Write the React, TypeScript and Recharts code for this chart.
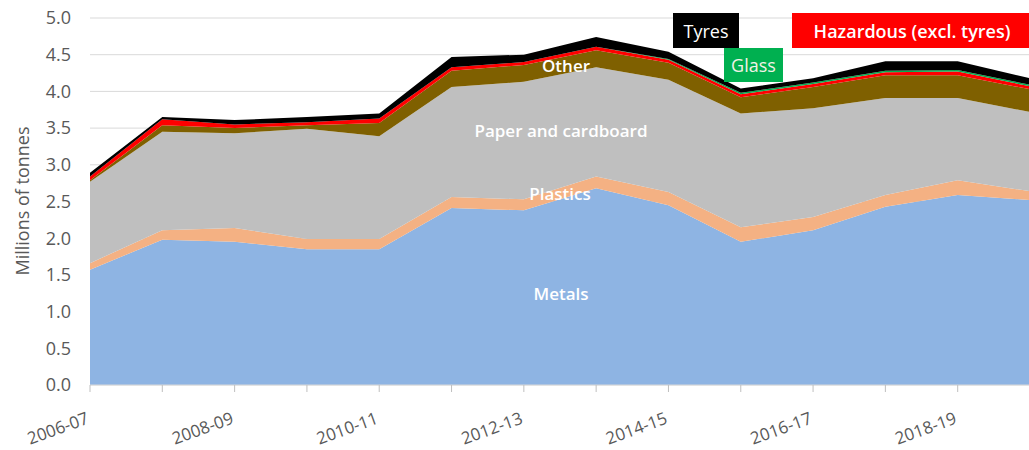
import React from "react";
import { Area, AreaChart, CartesianGrid, XAxis, YAxis } from "recharts";

// Values in millions of tonnes
const years = [
  "2006-07", "2007-08", "2008-09", "2009-10", "2010-11", "2011-12", "2012-13",
  "2013-14", "2014-15", "2015-16", "2016-17", "2017-18", "2018-19", "2019-20",
];
const metals = [1.57, 1.98, 1.95, 1.85, 1.85, 2.41, 2.38, 2.68, 2.45, 1.95, 2.11, 2.43, 2.59, 2.52];
const plastics = [0.09, 0.13, 0.19, 0.14, 0.14, 0.15, 0.15, 0.16, 0.18, 0.2, 0.18, 0.16, 0.2, 0.12];
const paper = [1.11, 1.34, 1.29, 1.5, 1.4, 1.5, 1.6, 1.49, 1.53, 1.55, 1.48, 1.32, 1.12, 1.08];
const other = [0.02, 0.09, 0.07, 0.05, 0.18, 0.22, 0.23, 0.23, 0.23, 0.22, 0.29, 0.31, 0.31, 0.31];
const hazardous = [0.05, 0.08, 0.05, 0.04, 0.06, 0.05, 0.04, 0.05, 0.04, 0.04, 0.04, 0.04, 0.05, 0.04];
const glass = [0, 0, 0, 0, 0, 0, 0, 0, 0.01, 0.02, 0.02, 0.02, 0.02, 0.02];
const tyres = [0.05, 0.03, 0.06, 0.07, 0.07, 0.14, 0.1, 0.13, 0.1, 0.06, 0.06, 0.13, 0.12, 0.09];
const yTicks = [0, 0.5, 1, 1.5, 2, 2.5, 3, 3.5, 4, 4.5, 5];

const data = years.map((year, i) => ({
  year,
  metals: metals[i],
  plastics: plastics[i],
  paper: paper[i],
  other: other[i],
  hazardous: hazardous[i],
  glass: glass[i],
  tyres: tyres[i],
}));

const series = [
  { key: "metals", color: "#8EB4E3" },
  { key: "plastics", color: "#F4B183" },
  { key: "paper", color: "#BFBFBF" },
  { key: "other", color: "#7F6000" },
  { key: "hazardous", color: "#FF0000" },
  { key: "glass", color: "#00B050" },
  { key: "tyres", color: "#000000" },
];

const FONT = "'Open Sans', sans-serif";
const TEXT = "#595959";

function XTick({ x, y, payload, index }: any) {
  if (index % 2 !== 0) return null;
  const ty = y + 29;
  return (
    <text
      x={x}
      y={ty}
      transform={`rotate(-20, ${x}, ${ty})`}
      textAnchor="end"
      fill={TEXT}
      fontSize={17}
      fontFamily={FONT}
    >
      {payload.value}
    </text>
  );
}

function YTitle() {
  return (
    <text
      x={22}
      y={201}
      transform="rotate(-90, 22, 201)"
      textAnchor="middle"
      dominantBaseline="central"
      fill={TEXT}
      fontSize={18}
      fontFamily={FONT}
    >
      Millions of tonnes
    </text>
  );
}

const areaLabel: React.CSSProperties = {
  position: "absolute",
  color: "#ffffff",
  fontFamily: FONT,
  fontSize: 17,
  fontWeight: 600,
  transform: "translate(-50%, -50%)",
  whiteSpace: "nowrap",
};

const boxLabel: React.CSSProperties = {
  position: "absolute",
  fontFamily: FONT,
  fontSize: 18,
  display: "flex",
  alignItems: "center",
  justifyContent: "center",
  whiteSpace: "nowrap",
};

export default function App() {
  return (
    <div
      style={{
        position: "absolute",
        left: 0,
        top: 0,
        width: 1029,
        height: 450,
        overflow: "hidden",
        background: "#ffffff",
      }}
    >
      <AreaChart width={1040} height={450} data={data} margin={{ top: 18, right: 10, bottom: 0, left: 0 }}>
        <CartesianGrid stroke="#D9D9D9" vertical={false} />
        <XAxis
          dataKey="year"
          interval={0}
          height={65}
          tick={<XTick />}
          tickSize={7}
          tickLine={{ stroke: "#BFBFBF" }}
          axisLine={{ stroke: "#D9D9D9" }}
        />
        <YAxis
          width={90}
          domain={[0, 5]}
          ticks={yTicks}
          tickFormatter={(v: number) => v.toFixed(1)}
          axisLine={false}
          tickLine={false}
          tickMargin={13}
          tick={{ fill: TEXT, fontSize: 18, fontFamily: FONT }}
          label={<YTitle />}
        />
        {series.map((s) => (
          <Area
            key={s.key}
            type="linear"
            dataKey={s.key}
            stackId="1"
            stroke="none"
            fill={s.color}
            fillOpacity={1}
            isAnimationActive={false}
          />
        ))}
      </AreaChart>

      <div style={{ ...areaLabel, left: 566, top: 65 }}>Other</div>
      <div style={{ ...areaLabel, left: 561, top: 130 }}>Paper and cardboard</div>
      <div style={{ ...areaLabel, left: 560, top: 193 }}>Plastics</div>
      <div style={{ ...areaLabel, left: 561, top: 293 }}>Metals</div>

      <div style={{ ...boxLabel, left: 673, top: 13, width: 66, height: 35, background: "#000000", color: "#ffffff" }}>
        Tyres
      </div>
      <div
        style={{
          ...boxLabel,
          left: 792,
          top: 13,
          width: 240,
          height: 35,
          background: "#FF0000",
          color: "#ffffff",
          fontWeight: 600,
        }}
      >
        Hazardous (excl. tyres)
      </div>
      <div style={{ ...boxLabel, left: 724, top: 48, width: 59, height: 34, background: "#00B050", color: "#F2F2E6" }}>
        Glass
      </div>
    </div>
  );
}
